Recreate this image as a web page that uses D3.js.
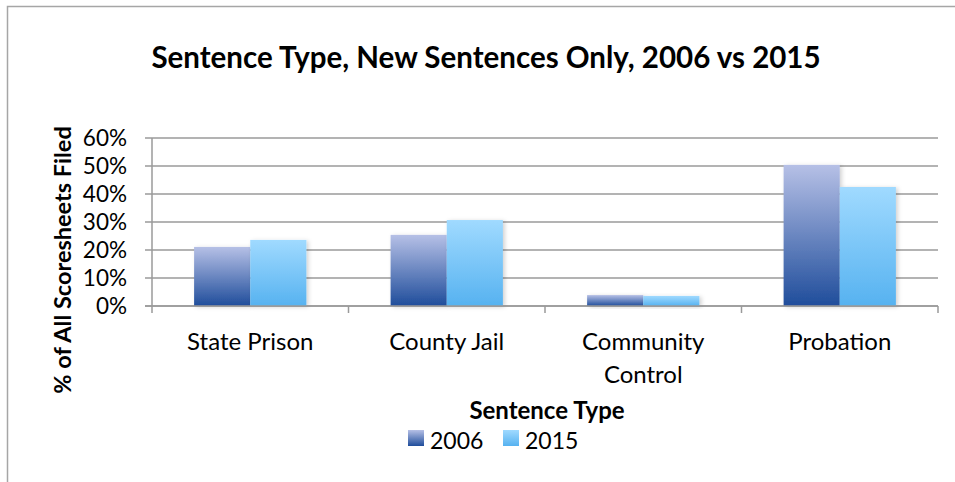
<!DOCTYPE html>
<html><head><meta charset="utf-8">
<script src="https://cdn.jsdelivr.net/npm/d3@7"></script>
<style>body{margin:0;background:#fff}svg{display:block}text{font-family:Lato,"Open Sans",sans-serif;fill:#000}</style>
</head><body><div id="chart"></div>
<script>
const categories = [["State Prison"], ["County Jail"], ["Community", "Control"], ["Probation"]];
const seriesNames = ["2006", "2015"];
const values2006 = [0.211, 0.254, 0.039, 0.504];
const values2015 = [0.236, 0.307, 0.036, 0.425];
const yTicks = [0, 0.1, 0.2, 0.3, 0.4, 0.5, 0.6];
const titleText = "Sentence Type, New Sentences Only, 2006 vs 2015";
const yTitle = "% of All Scoresheets Filed";
const xTitle = "Sentence Type";

(function () {
const W = 955, H = 482;
const svg = d3.select("#chart").append("svg").attr("width", W).attr("height", H);
const defs = svg.append("defs");
const grads = [["g2006", "#b6c0e6", "#1f4d9b"], ["g2015", "#a0daff", "#56b2f0"]];
grads.forEach(([id, c1, c2]) => {
  const g = defs.append("linearGradient").attr("id", id).attr("x1", 0).attr("y1", 0).attr("x2", 0).attr("y2", 1);
  g.append("stop").attr("offset", "0%").attr("stop-color", c1);
  g.append("stop").attr("offset", "100%").attr("stop-color", c2);
});
const f = defs.append("filter").attr("id", "sh").attr("x", "-20%").attr("y", "-20%").attr("width", "140%").attr("height", "140%");
f.append("feDropShadow").attr("dx", 2).attr("dy", 1).attr("stdDeviation", 2).attr("flood-color", "#000").attr("flood-opacity", 0.18);

// outer border
svg.append("path").attr("d", "M7.5,482 V6.5 H955").attr("fill", "none").attr("stroke", "#a6a6a6").attr("stroke-width", 1.5);

const pL = 152, pR = 938, pT = 138, pB = 306;
const x0 = d3.scaleBand().domain(d3.range(categories.length)).range([pL, pR]).padding(0);
const barW = x0.bandwidth() / 3.5;
const x1 = d3.scaleBand().domain(seriesNames).range([0, barW * 2]);
const y = d3.scaleLinear().domain([0, 0.6]).range([pB, pT]);

// gridlines
svg.append("g").selectAll("line").data(yTicks).join("line")
  .attr("x1", pL - 7).attr("x2", pR).attr("y1", d => y(d)).attr("y2", d => y(d))
  .attr("stroke", "#9a9a9a").attr("stroke-width", 1.5);

// y axis labels
svg.append("g").selectAll("text").data(yTicks).join("text")
  .attr("x", 127).attr("y", d => y(d)).attr("dy", "0.36em").attr("text-anchor", "end")
  .style("font-size", "22.5px").text(d => d3.format(".0%")(d));

// bars
const data = categories.map((c, i) => ({ i, vals: [values2006[i], values2015[i]] }));
const grp = svg.append("g").selectAll("g").data(data).join("g")
  .attr("transform", d => `translate(${x0(d.i) + (x0.bandwidth() - barW * 2) / 2},0)`);
grp.selectAll("rect").data(d => d.vals.map((v, k) => ({ v, k }))).join("rect")
  .attr("x", d => x1(seriesNames[d.k])).attr("width", x1.bandwidth())
  .attr("y", d => y(d.v)).attr("height", d => y(0) - y(d.v))
  .attr("fill", d => `url(#g${seriesNames[d.k]})`).attr("filter", "url(#sh)");

// axes lines
svg.append("line").attr("x1", pL).attr("x2", pL).attr("y1", pT).attr("y2", pB + 7)
  .attr("stroke", "#9a9a9a").attr("stroke-width", 1.5);
svg.append("line").attr("x1", pL - 7).attr("x2", pR).attr("y1", pB).attr("y2", pB)
  .attr("stroke", "#9a9a9a").attr("stroke-width", 1.5);
svg.append("g").selectAll("line").data(d3.range(1, categories.length + 1)).join("line")
  .attr("x1", i => i < categories.length ? x0(i) : pR).attr("x2", i => i < categories.length ? x0(i) : pR)
  .attr("y1", pB).attr("y2", pB + 7).attr("stroke", "#9a9a9a").attr("stroke-width", 1.5);

// category labels
const cl = svg.append("g").selectAll("text").data(categories).join("text")
  .attr("text-anchor", "middle").style("font-size", "24px")
  .attr("transform", (d, i) => `translate(${x0(i) + x0.bandwidth() / 2},350)`);
cl.selectAll("tspan").data(d => d).join("tspan").attr("x", 0).attr("dy", (d, k) => k === 0 ? 0 : 33).text(d => d);

// title
svg.append("text").attr("x", 486).attr("y", 68).attr("text-anchor", "middle")
  .style("font-size", "29.5px").style("font-weight", "bold").text(titleText);

// y title
svg.append("text").attr("transform", "translate(71,260) rotate(-90)").attr("text-anchor", "middle")
  .style("font-size", "23.5px").style("font-weight", "bold").text(yTitle);

// x title
svg.append("text").attr("x", 547).attr("y", 419).attr("text-anchor", "middle")
  .style("font-size", "24px").style("font-weight", "bold").text(xTitle);

// legend
const legX = [408, 503];
const lg = svg.append("g").selectAll("g").data(seriesNames).join("g")
  .attr("transform", (d, i) => `translate(${legX[i]},430)`);
lg.append("rect").attr("width", 16).attr("height", 16).attr("fill", d => `url(#g${d})`);
lg.append("text").attr("x", 22).attr("y", 11).attr("dy", "0.36em").style("font-size", "23px").text(d => d);
})();
</script></body></html>
